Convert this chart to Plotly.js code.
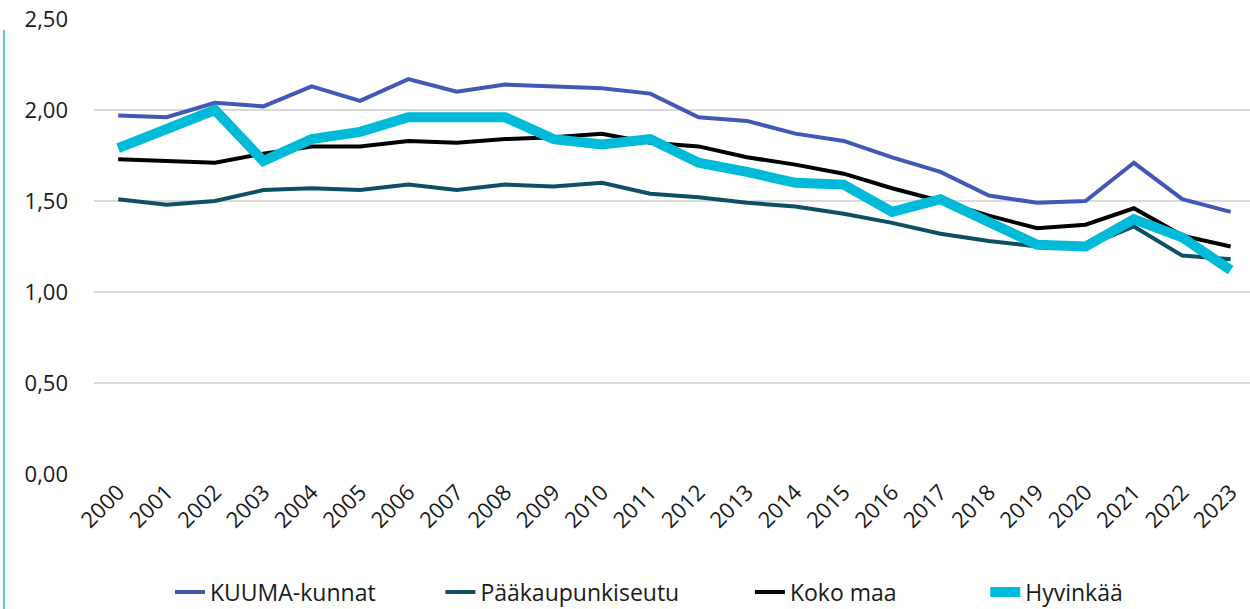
<!DOCTYPE html>
<html>
<head>
<meta charset="utf-8">
<script src="https://cdn.plot.ly/plotly-3.0.1.min.js"></script>
<style>
  html, body { margin: 0; padding: 0; background: #fff; }
  #chart { width: 1250px; height: 609px; }
</style>
</head>
<body>
<div id="chart"></div>
<script>
// Years on the x axis
const years = ['2000', '2001', '2002', '2003', '2004', '2005', '2006', '2007', '2008', '2009', '2010', '2011',
    '2012', '2013', '2014', '2015', '2016', '2017', '2018', '2019', '2020', '2021', '2022', '2023'];

// Series values
const kuuma = [1.97, 1.96, 2.04, 2.02, 2.13, 2.05, 2.17, 2.10, 2.14, 2.13, 2.12, 2.09,
    1.96, 1.94, 1.87, 1.83, 1.74, 1.66, 1.53, 1.49, 1.50, 1.71, 1.51, 1.44];
const paakaupunkiseutu = [1.51, 1.48, 1.50, 1.56, 1.57, 1.56, 1.59, 1.56, 1.59, 1.58, 1.60, 1.54,
    1.52, 1.49, 1.47, 1.43, 1.38, 1.32, 1.28, 1.25, 1.25, 1.36, 1.20, 1.18];
const kokoMaa = [1.73, 1.72, 1.71, 1.76, 1.80, 1.80, 1.83, 1.82, 1.84, 1.85, 1.87, 1.82,
    1.80, 1.74, 1.70, 1.65, 1.57, 1.50, 1.42, 1.35, 1.37, 1.46, 1.31, 1.25];
const hyvinkaa = [1.79, 1.89, 2.00, 1.72, 1.84, 1.88, 1.96, 1.96, 1.96, 1.84, 1.81, 1.84,
    1.71, 1.66, 1.60, 1.59, 1.44, 1.51, 1.39, 1.26, 1.25, 1.40, 1.30, 1.12];

const yTicks = [0, 0.5, 1, 1.5, 2, 2.5];

// non-breaking spaces widen the legend entries
function pad(n) {
    return '\u00A0'.repeat(n);
}

function lineTrace(name, values, color, width) {
    return {
        x: years,
        y: values,
        name: name,
        type: 'scatter',
        mode: 'lines',
        line: { color: color, width: width, shape: 'linear' },
        hoverinfo: 'skip'
    };
}

const data = [
    lineTrace('KUUMA-kunnat' + pad(10), kuuma, '#4258b6', 4),
    lineTrace('Pääkaupunkiseutu' + pad(11), paakaupunkiseutu, '#0e4e66', 4),
    lineTrace('Koko maa' + pad(14), kokoMaa, '#000000', 4),
    lineTrace('Hyvinkää', hyvinkaa, '#00bad9', 10)
];

const layout = {
    width: 1250,
    height: 609,
    margin: { l: 94, r: 0, t: 19, b: 135 },
    paper_bgcolor: '#ffffff',
    plot_bgcolor: '#ffffff',
    separators: ', ',
    font: { family: '"Open Sans", "Noto Sans", sans-serif', size: 22, color: '#1a1a1a' },
    showlegend: true,
    legend: {
        orientation: 'h',
        x: 0.136,
        xref: 'container',
        xanchor: 'left',
        y: 0.028,
        yref: 'container',
        yanchor: 'middle',
        font: { size: 23, color: '#1a1a1a' },
        traceorder: 'normal'
    },
    xaxis: {
        type: 'category',
        range: [-0.5, 23.4],
        tickangle: -45,
        showgrid: false,
        zeroline: false,
        showline: false,
        ticks: '',
        tickfont: { size: 22, color: '#1a1a1a' },
        fixedrange: true
    },
    yaxis: {
        range: [0, 2.5],
        tickvals: yTicks,
        tickformat: '.2f',
        showgrid: true,
        gridcolor: '#d9d9d9',
        gridwidth: 1.5,
        zeroline: false,
        showline: false,
        ticks: '',
        ticklabelstandoff: 25,
        tickfont: { size: 22, color: '#1a1a1a' },
        fixedrange: true
    },
    shapes: [{
        // thin accent line at the left edge
        type: 'line',
        xref: 'paper', yref: 'paper',
        x0: -0.0779, x1: -0.0779,
        y0: 0.976, y1: -0.3,
        line: { color: '#5cc6da', width: 2 }
    }]
};

Plotly.newPlot('chart', data, layout, { staticPlot: true, displayModeBar: false });
</script>
</body>
</html>
